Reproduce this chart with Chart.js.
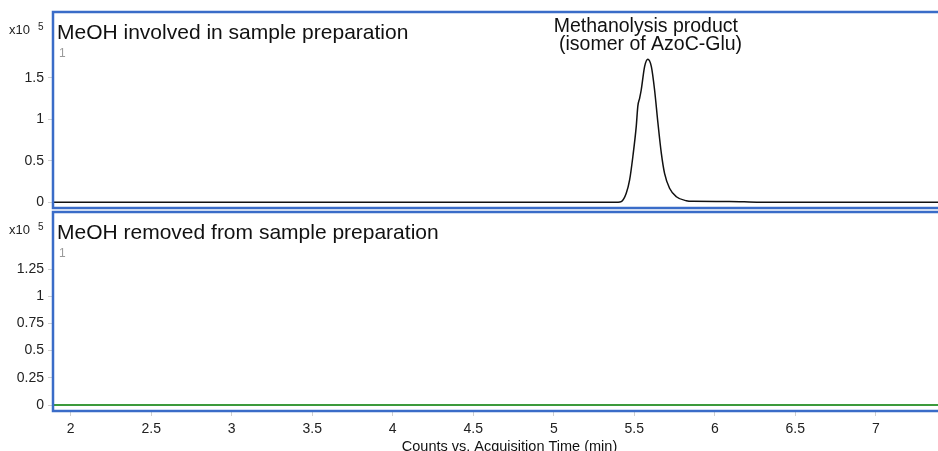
<!DOCTYPE html>
<html>
<head>
<meta charset="utf-8">
<script src="https://cdn.jsdelivr.net/npm/chart.js@4.4.1/dist/chart.umd.min.js"></script>
<style>
  html, body { margin: 0; padding: 0; background: #fff; overflow: hidden; width: 938px; height: 451px; }
  .panel { position: absolute; left: 0; width: 970px; }
  #topWrap { top: 0; height: 210px; }
  #botWrap { top: 210px; height: 260px; }
</style>
</head>
<body>
<div class="panel" id="topWrap"><canvas id="topChart" width="970" height="210"></canvas></div>
<div class="panel" id="botWrap"><canvas id="botChart" width="970" height="260"></canvas></div>
<script>
// acquisition time (min) and counts (x10^5) for the MeOH run
const meohTimes  = [1.89, 5.40, 5.419, 5.450, 5.471, 5.491, 5.512, 5.522, 5.533, 5.543, 5.564, 5.584,
                    5.606, 5.626, 5.647, 5.668, 5.688, 5.719, 5.761, 5.823, 5.864, 6.09, 6.28, 7.56];
const meohCounts = [0, 0, 0.007, 0.108, 0.269, 0.549, 0.911, 1.159, 1.253, 1.353, 1.634, 1.723,
                    1.634, 1.353, 0.952, 0.590, 0.349, 0.169, 0.067, 0.019, 0.012, 0.010, 0, 0];

// run without MeOH: flat trace
const noMeohTimes  = [1.89, 7.56];
const noMeohCounts = [0, 0];

const xTicks = [2, 2.5, 3, 3.5, 4, 4.5, 5, 5.5, 6, 6.5, 7];
const topYTicks = [0, 0.5, 1, 1.5];
const botYTicks = [0, 0.25, 0.5, 0.75, 1, 1.25];

const peakTime = 5.584;
const peakLabel = ['Methanolysis product', ' (isomer of AzoC-Glu)'];

const FONT = '"Liberation Sans", Arial, sans-serif';
const BLUE = '#3a6cc8';

function toPoints(xs, ys) {
  return xs.map((x, i) => ({ x: x, y: ys[i] }));
}

// frame, panel title, scale exponent and compound index
function panelDecor(title) {
  return {
    id: 'panelDecor',
    afterDraw(chart) {
      const { ctx, chartArea: a } = chart;
      ctx.save();
      ctx.strokeStyle = BLUE;
      ctx.lineWidth = 2.5;
      ctx.strokeRect(a.left, a.top, a.right - a.left, a.bottom - a.top);

      ctx.fillStyle = '#111';
      ctx.textAlign = 'left';
      ctx.textBaseline = 'alphabetic';
      ctx.font = '21px ' + FONT;
      ctx.fillText(title, a.left + 4, a.top + 27);

      ctx.fillStyle = '#9a9a9a';
      ctx.font = '12px ' + FONT;
      ctx.fillText('1', a.left + 6, a.top + 45);

      ctx.fillStyle = '#222';
      ctx.font = '13px ' + FONT;
      ctx.fillText('x10', 9, a.top + 22);
      ctx.font = '10px ' + FONT;
      ctx.fillText('5', 38, a.top + 18);
      ctx.restore();
    }
  };
}

const peakNote = {
  id: 'peakNote',
  afterDraw(chart) {
    const { ctx } = chart;
    const x = chart.scales.x.getPixelForValue(peakTime);
    ctx.save();
    ctx.fillStyle = '#111';
    ctx.textAlign = 'center';
    ctx.font = '19.5px ' + FONT;
    ctx.fillText(peakLabel[0], x - 2, 31.5);
    ctx.fillText(peakLabel[1], x, 50);
    ctx.restore();
  }
};

function noPad(s) {
  s.paddingTop = 0;
  s.paddingBottom = 0;
  s.paddingLeft = 0;
  s.paddingRight = 0;
}

function yAxis(min, max, ticks) {
  return {
    type: 'linear',
    min: min,
    max: max,
    afterBuildTicks: s => { s.ticks = ticks.map(v => ({ value: v })); },
    afterFit: s => { s.width = 53; noPad(s); },
    border: { display: false },
    grid: { drawOnChartArea: false, drawTicks: true, tickLength: 5, color: '#d0d0d0' },
    ticks: {
      color: '#222',
      padding: 4,
      font: { family: FONT, size: 14 },
      callback: v => String(v)
    }
  };
}

function xAxis(show) {
  return {
    type: 'linear',
    min: 1.89,
    max: 7.56,
    display: show,
    afterBuildTicks: s => { s.ticks = xTicks.map(v => ({ value: v })); },
    afterFit: s => { if (show) s.height = 45; noPad(s); },
    border: { display: false },
    grid: { drawOnChartArea: false, drawTicks: true, tickLength: 5, color: '#d0d0d0' },
    ticks: {
      color: '#222',
      padding: 5,
      maxRotation: 0,
      autoSkip: false,
      font: { family: FONT, size: 14 },
      callback: v => String(v)
    },
    title: {
      display: true,
      text: 'Counts vs. Acquisition Time (min)',
      color: '#111',
      padding: { top: 0, bottom: 0 },
      font: { family: FONT, size: 14.5 }
    }
  };
}

const common = {
  responsive: false,
  animation: false,
  events: [],
  plugins: { legend: { display: false }, tooltip: { enabled: false } }
};

new Chart(document.getElementById('topChart'), {
  type: 'line',
  data: {
    datasets: [{
      data: toPoints(meohTimes, meohCounts),
      borderColor: '#111',
      borderWidth: 1.5,
      pointRadius: 0,
      cubicInterpolationMode: 'monotone'
    }]
  },
  options: Object.assign({}, common, {
    layout: { padding: { top: 12, left: 0, right: 4, bottom: 2 } },
    scales: { x: xAxis(false), y: yAxis(-0.069, 2.293, topYTicks) }
  }),
  plugins: [panelDecor('MeOH involved in sample preparation'), peakNote]
});

new Chart(document.getElementById('botChart'), {
  type: 'line',
  data: {
    datasets: [{
      data: toPoints(noMeohTimes, noMeohCounts),
      borderColor: '#3c9a3c',
      borderWidth: 2,
      pointRadius: 0
    }]
  },
  options: Object.assign({}, common, {
    layout: { padding: { top: 2, left: 0, right: 4, bottom: 14 } },
    scales: { x: xAxis(true), y: yAxis(-0.055, 1.774, botYTicks) }
  }),
  plugins: [panelDecor('MeOH removed from sample preparation')]
});
</script>
</body>
</html>
